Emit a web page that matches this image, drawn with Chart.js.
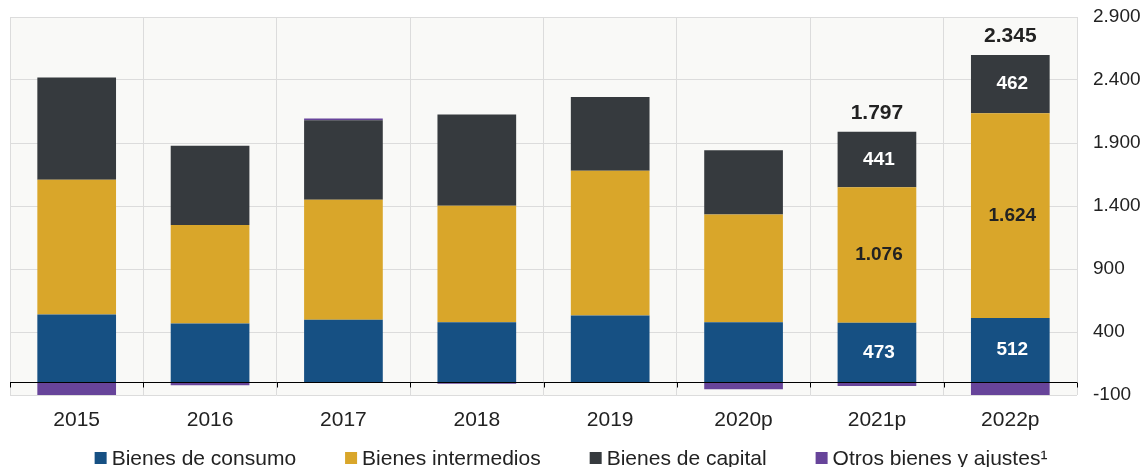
<!DOCTYPE html>
<html lang="es">
<head>
<meta charset="utf-8">
<script src="https://cdn.jsdelivr.net/npm/chart.js@4.4.1/dist/chart.umd.min.js"></script>
<style>
    html, body { margin: 0; padding: 0; background: #fff; }
    #wrap { width: 1142px; height: 467px; position: relative; }
</style>
</head>
<body>
<div id="wrap"><canvas id="importChart"></canvas></div>
<script>
// --- DATOS ---
const years = ['2015', '2016', '2017', '2018', '2019', '2020p', '2021p', '2022p'];
const consumo = [538, 467, 498, 478, 530, 478, 473, 512];
const intermedios = [1071, 782, 952, 924, 1150, 855, 1076, 1624];
const capital = [811, 630, 630, 724, 586, 509, 441, 462];
const otros = [-100, -23, 14, -10, -2, -55, -28, -100];
const totals = [null, null, null, null, null, null, 1797, 2345];
const showValues = [false, false, false, false, false, false, true, true];
const yTicks = [-100, 400, 900, 1400, 1900, 2400, 2900];

const seriesNames = ['Bienes de consumo', 'Bienes intermedios', 'Bienes de capital', 'Otros bienes y ajustes¹'];
const seriesColors = ['#165083', '#d9a62a', '#363a3e', '#67449a'];
const valueColors = ['#ffffff', '#222222', '#ffffff', '#ffffff'];

const FONT = '"Liberation Sans", Arial, sans-serif';

// formato con punto de miles
function fmt(v) {
    return String(v).replace(/\B(?=(\d{3})+(?!\d))/g, '.');
}

// fondo gris del área del gráfico
const plotBg = {
    id: 'plotBg',
    beforeDraw(chart) {
        const { ctx, chartArea: a } = chart;
        ctx.save();
        ctx.fillStyle = '#f9f9f7';
        ctx.fillRect(a.left, a.top, a.right - a.left, a.bottom - a.top);
        ctx.restore();
    }
};

// línea del cero con marcas entre categorías
const zeroLine = {
    id: 'zeroLine',
    afterDatasetsDraw(chart) {
        const { ctx, chartArea: a, scales } = chart;
        const y0 = Math.round(scales.y.getPixelForValue(0)) + 0.5;
        const step = (a.right - a.left) / years.length;
        ctx.save();
        ctx.strokeStyle = '#000';
        ctx.lineWidth = 1;
        ctx.beginPath();
        ctx.moveTo(a.left, y0);
        ctx.lineTo(a.right, y0);
        for (let i = 0; i <= years.length; i++) {
            const x = Math.round(a.left + step * i) + 0.5;
            ctx.moveTo(x, y0);
            ctx.lineTo(x, y0 + 5);
        }
        ctx.stroke();
        ctx.restore();
    }
};

// valores dentro de las barras y totales encima
const barValues = {
    id: 'barValues',
    afterDatasetsDraw(chart) {
        const { ctx, scales } = chart;
        ctx.save();
        ctx.textAlign = 'center';
        ctx.textBaseline = 'middle';
        ctx.font = 'bold 19px ' + FONT;
        for (let d = 0; d < 3; d++) {
            const meta = chart.getDatasetMeta(d);
            meta.data.forEach((bar, i) => {
                if (!showValues[i]) return;
                ctx.fillStyle = valueColors[d];
                ctx.fillText(fmt(chart.data.datasets[d].data[i]), bar.x + 2, (bar.y + bar.base) / 2);
            });
        }
        ctx.font = 'bold 21px ' + FONT;
        ctx.fillStyle = '#222';
        ctx.textBaseline = 'bottom';
        totals.forEach((t, i) => {
            if (t === null) return;
            const top = consumo[i] + intermedios[i] + capital[i] + Math.max(otros[i], 0);
            const x = chart.getDatasetMeta(0).data[i].x;
            ctx.fillText(fmt(t), x, scales.y.getPixelForValue(top) - 8);
        });
        ctx.restore();
    }
};

// leyenda dibujada a mano, centrada bajo el gráfico
const bottomLegend = {
    id: 'bottomLegend',
    afterDraw(chart) {
        const { ctx, width } = chart;
        const box = 12, gap = 5, spacing = 49, y = 458;
        ctx.save();
        ctx.font = '21px ' + FONT;
        const widths = seriesNames.map(n => ctx.measureText(n).width);
        const total = widths.reduce((s, w) => s + box + gap + w, 0) + spacing * (seriesNames.length - 1);
        let x = (width - total) / 2;
        ctx.textBaseline = 'middle';
        ctx.textAlign = 'left';
        seriesNames.forEach((n, i) => {
            ctx.fillStyle = seriesColors[i];
            ctx.fillRect(x, y - box / 2, box, box);
            ctx.fillStyle = '#222';
            ctx.fillText(n, x + box + gap, y + 1);
            x += box + gap + widths[i] + spacing;
        });
        ctx.restore();
    }
};

const datasets = [consumo, intermedios, capital, otros].map((vals, i) => ({
    label: seriesNames[i],
    data: vals,
    backgroundColor: seriesColors[i],
    borderWidth: 0,
    categoryPercentage: 1,
    barPercentage: 0.59
}));

new Chart(document.getElementById('importChart'), {
    type: 'bar',
    data: { labels: years, datasets: datasets },
    options: {
        responsive: true,
        maintainAspectRatio: false,
        animation: false,
        layout: { padding: { top: 17, left: 10, right: 0, bottom: 35 } },
        plugins: {
            legend: { display: false },
            tooltip: { enabled: false }
        },
        scales: {
            x: {
                stacked: true,
                grid: { color: '#dcdcdc', drawTicks: false, offset: true },
                border: { display: false },
                ticks: { color: '#222', font: { family: FONT, size: 21 }, padding: 13 },
                afterFit(scale) { scale.height = 37; }
            },
            y: {
                stacked: true,
                position: 'right',
                min: -100,
                max: 2900,
                afterBuildTicks(scale) { scale.ticks = yTicks.map(v => ({ value: v })); },
                grid: { color: '#dcdcdc', drawTicks: false },
                border: { display: false },
                ticks: {
                    color: '#222',
                    font: { family: FONT, size: 19 },
                    padding: 16,
                    callback: v => fmt(v)
                },
                afterFit(scale) {
                    scale.width = 65;
                    scale.paddingTop = 0;
                    scale.paddingBottom = 0;
                }
            }
        }
    },
    plugins: [plotBg, zeroLine, barValues, bottomLegend]
});
</script>
</body>
</html>
